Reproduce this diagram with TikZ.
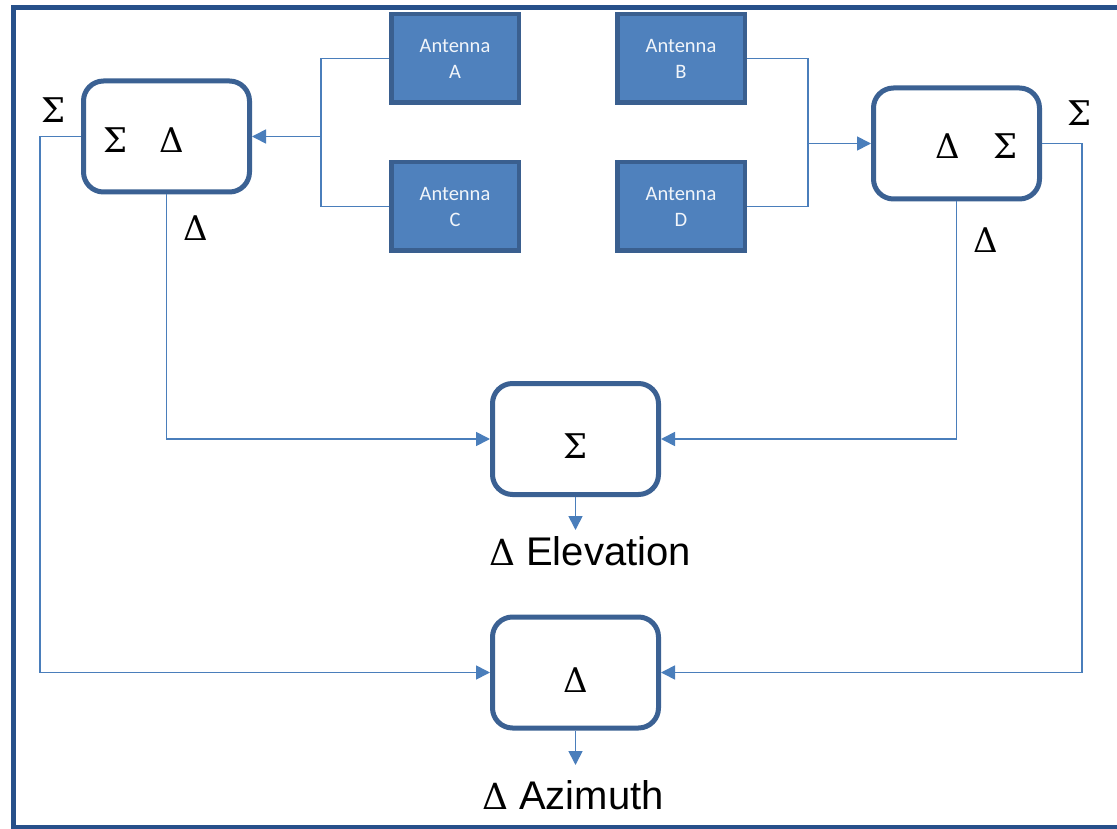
\documentclass[tikz,border=0pt]{standalone}
\usepackage{fontspec}
\setmainfont{Liberation Serif}
\newfontfamily\antfont{Carlito}
\newfontfamily\arialfont{Liberation Sans}
\newfontfamily\grkfont{DejaVu Serif}
\usetikzlibrary{arrows.meta}
\definecolor{frameblue}{HTML}{27508A}
\definecolor{boxedge}{HTML}{3B6193}
\definecolor{antfill}{HTML}{4F81BD}
\definecolor{antedge}{HTML}{3A5F8F}
\definecolor{wire}{HTML}{4A7EBB}
\begin{document}
\begin{tikzpicture}[x=1pt,y=-1pt,
  antbox/.style={draw=antedge, fill=antfill, line width=4.5pt, minimum width=127.5pt, minimum height=88.5pt, inner sep=0pt, align=center, text=white!92!antfill, font=\antfont\fontsize{20.5}{26}\selectfont},
  rbox/.style={draw=boxedge, fill=white, line width=5pt, rounded corners=20pt, minimum width=166pt, minimum height=111pt, inner sep=0pt},
  greek/.style={inner sep=0pt, font=\grkfont\fontsize{34}{40}\selectfont},
  outlabel/.style={inner sep=0pt, font=\arialfont\fontsize{40}{46}\selectfont},
  wire/.style={draw=wire, line width=1.7pt},
  arr/.style={wire, -{Triangle[length=14pt,width=14pt]}}
]
\useasboundingbox (0,0) rectangle (1117,829);
\clip (0,0) rectangle (1117,829);
\fill[white] (0,0) rectangle (1117,829);
\draw[frameblue, line width=5.5pt] (13.5,7.5) rectangle (1130,827.5);

% antennas
\node[antbox] (A) at (455,58.5) {Antenna\\A};
\node[antbox] (C) at (455,206.5) {Antenna\\C};
\node[antbox] (B) at (681,58.5) {Antenna\\B};
\node[antbox] (D) at (681,206.5) {Antenna\\D};

% combiner boxes
\node[rbox] (LB) at (166.5,136.5) {};
\node[rbox] (RB) at (956.5,143.5) {};
\node[rbox] (El) at (575.5,439) {};
\node[rbox] (Az) at (575.5,672.5) {};

% labels inside boxes
\node[greek] (lbs) at (116,140) {Σ};
\node[greek] (lbd) at (172,140) {Δ};
\node[greek] (rbd) at (948,146) {Δ};
\node[greek] (rbs) at (1006,146) {Σ};
\node[greek] (els) at (576,446) {Σ};
\node[greek] (azd) at (576,680) {Δ};

% port labels
\node[greek] (lsig) at (54,110) {Σ};
\node[greek] (ldel) at (196,228) {Δ};
\node[greek] (rsig) at (1080,113) {Σ};
\node[greek] (rdel) at (986,240) {Δ};

% junctions
\coordinate (jl) at (321,136.5);
\coordinate (jr) at (808,143.5);
\coordinate (cl) at (40,0);
\coordinate (cr) at (1082,0);
\coordinate (elout) at (575.5,530);
\coordinate (azout) at (575.5,765);

% antenna wiring
\draw[wire] (A.west) -| (jl) |- (C.west);
\draw[arr] (jl) -- (LB.east);
\draw[wire] (B.east) -| (jr) |- (D.east);
\draw[arr] (jr) -- (RB.west);

% to elevation / azimuth
\draw[arr] (LB.south) |- (El.west);
\draw[arr] (RB.south) |- (El.east);
\draw[arr] (LB.west) -| (cl |- Az.west) -- (Az.west);
\draw[arr] (RB.east) -| (cr |- Az.east) -- (Az.east);

% outputs
\draw[arr] (El.south) -- (elout);
\draw[arr] (Az.south) -- (azout);
\node[outlabel] (elt) at (590,551) {{\grkfont\fontsize{36}{40}\selectfont Δ} Elevation};
\node[outlabel] (azt) at (573,795) {{\grkfont\fontsize{36}{40}\selectfont Δ} Azimuth};
\end{tikzpicture}
\end{document}
